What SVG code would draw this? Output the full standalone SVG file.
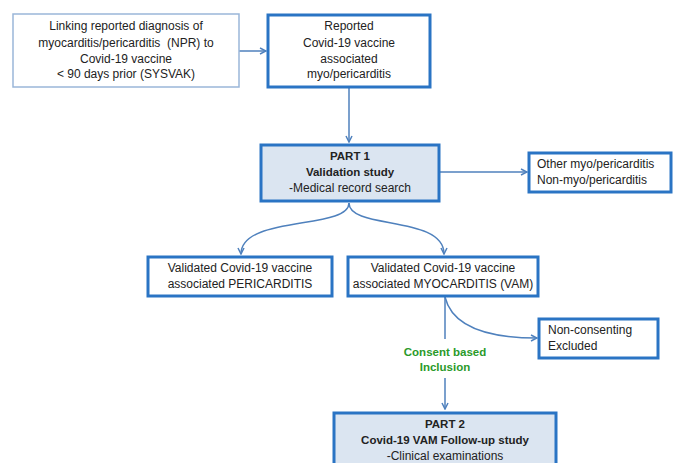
<svg xmlns="http://www.w3.org/2000/svg" width="673" height="463" viewBox="0 0 673 463">
<style>
  text { font-family: "Liberation Sans", Arial, sans-serif; font-size: 12px; fill: #222; }
  .b { font-weight: bold; font-size: 11.5px; }
  .g { fill: #2a9a2a; font-weight: bold; font-size: 11.5px; }
  .thin { fill: #fff; stroke: #9ab6d9; stroke-width: 1.5; }
  .thick { fill: #fff; stroke: #2a74c4; stroke-width: 3; }
  .part { fill: #dbe5f1; stroke: #2a74c4; stroke-width: 3; }
  .conn { fill: none; stroke: #4f81bd; stroke-width: 1.5; }
</style>
<defs>
  <marker id="arr" viewBox="0 0 8 8" refX="7" refY="4" markerWidth="8" markerHeight="8" markerUnits="userSpaceOnUse" orient="auto">
    <path d="M1,1 L7,4 L1,7" fill="none" stroke="#4f81bd" stroke-width="1.5"/>
  </marker>
</defs>
<rect width="673" height="463" fill="#fff"/>

<g id="connectors">
  <line class="conn" x1="239" y1="51" x2="266" y2="51" marker-end="url(#arr)"/>
  <line class="conn" x1="349" y1="88" x2="349" y2="142" marker-end="url(#arr)"/>
  <line class="conn" x1="440" y1="172" x2="527" y2="172" marker-end="url(#arr)"/>
  <path class="conn" d="M349,203 C349,230 241,215 241,254" marker-end="url(#arr)"/>
  <path class="conn" d="M349,203 C349,230 444,215 444,254" marker-end="url(#arr)"/>
  <path class="conn" d="M445,297 Q455,338 537,338" marker-end="url(#arr)"/>
  <line class="conn" x1="445" y1="297" x2="445" y2="339"/>
  <line class="conn" x1="445" y1="378" x2="445" y2="409" marker-end="url(#arr)"/>
  <text class="g" x="445" y="356" text-anchor="middle">Consent based</text>
  <text class="g" x="445" y="371" text-anchor="middle">Inclusion</text>
</g>

<g id="linking">
  <rect class="thin" x="13" y="14" width="226" height="73"/>
  <text x="126" y="30" text-anchor="middle">Linking reported diagnosis of</text>
  <text x="126" y="47" text-anchor="middle" xml:space="preserve">myocarditis/pericarditis  (NPR) to</text>
  <text x="126" y="63" text-anchor="middle">Covid-19 vaccine</text>
  <text x="126" y="78" text-anchor="middle">&lt; 90 days prior (SYSVAK)</text>
</g>

<g id="reported">
  <rect class="thick" x="268" y="15" width="162" height="72"/>
  <text x="349" y="30" text-anchor="middle">Reported</text>
  <text x="349" y="47" text-anchor="middle">Covid-19 vaccine</text>
  <text x="349" y="63" text-anchor="middle">associated</text>
  <text x="349" y="78" text-anchor="middle">myo/pericarditis</text>
</g>

<g id="part1">
  <rect class="part" x="261" y="145" width="178" height="56"/>
  <text class="b" x="350" y="160" text-anchor="middle">PART 1</text>
  <text class="b" x="350" y="176" text-anchor="middle">Validation study</text>
  <text x="350" y="192" text-anchor="middle">-Medical record search</text>
</g>

<g id="other">
  <rect class="thick" x="529" y="153" width="142" height="39"/>
  <text x="537" y="168">Other myo/pericarditis</text>
  <text x="537" y="184">Non-myo/pericarditis</text>
</g>

<g id="pericarditis">
  <rect class="thick" x="148" y="257" width="184" height="39"/>
  <text x="240" y="272" text-anchor="middle">Validated Covid-19 vaccine</text>
  <text x="240" y="288" text-anchor="middle">associated PERICARDITIS</text>
</g>

<g id="myocarditis">
  <rect class="thick" x="348" y="257" width="190" height="39"/>
  <text x="443" y="272" text-anchor="middle">Validated Covid-19 vaccine</text>
  <text x="443" y="288" text-anchor="middle">associated MYOCARDITIS (VAM)</text>
</g>

<g id="nonconsenting">
  <rect class="thick" x="539" y="319" width="119" height="39"/>
  <text x="548" y="334">Non-consenting</text>
  <text x="548" y="350">Excluded</text>
</g>

<g id="part2">
  <rect class="part" x="334" y="413" width="222" height="60"/>
  <text class="b" x="445" y="428" text-anchor="middle">PART 2</text>
  <text class="b" x="445" y="444" text-anchor="middle">Covid-19 VAM Follow-up study</text>
  <text x="445" y="460" text-anchor="middle">-Clinical examinations</text>
</g>
</svg>
